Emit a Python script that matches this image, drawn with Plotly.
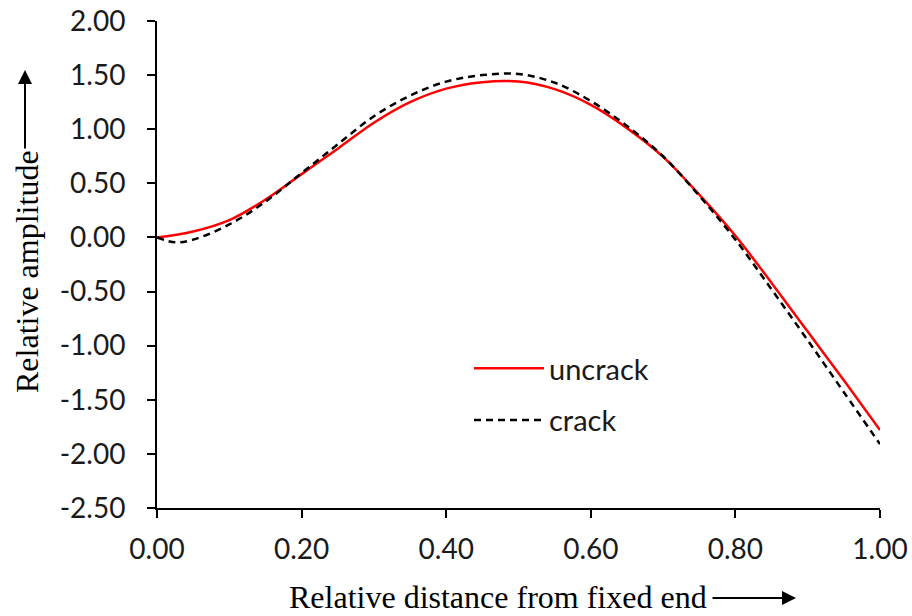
import plotly.graph_objects as go

x_uncrack = [0.00, 0.05, 0.10, 0.15, 0.20, 0.25, 0.30, 0.35, 0.40, 0.45, 0.50,
             0.55, 0.60, 0.65, 0.70, 0.75, 0.80, 0.85, 0.90, 0.95, 1.00]
y_uncrack = [0.00, 0.055, 0.16, 0.35, 0.585, 0.82, 1.06, 1.25, 1.375, 1.435, 1.44,
             1.37, 1.225, 1.01, 0.745, 0.395, 0.015, -0.42, -0.87, -1.32, -1.78]

x_crack = [0.00, 0.025, 0.05, 0.10, 0.15, 0.20, 0.25, 0.30, 0.35, 0.40, 0.45, 0.50,
           0.55, 0.60, 0.65, 0.70, 0.75, 0.80, 0.85, 0.90, 0.95, 1.00]
y_crack = [0.00, -0.045, -0.02, 0.12, 0.33, 0.595, 0.86, 1.12, 1.31, 1.44, 1.50, 1.51,
           1.43, 1.26, 1.03, 0.75, 0.385, -0.02, -0.48, -0.95, -1.43, -1.91]

x_ticks = [0.0, 0.2, 0.4, 0.6, 0.8, 1.0]
x_tick_labels = ["0.00", "0.20", "0.40", "0.60", "0.80", "1.00"]
y_ticks = [2.0, 1.5, 1.0, 0.5, 0.0, -0.5, -1.0, -1.5, -2.0, -2.5]
y_tick_labels = ["2.00", "1.50", "1.00", "0.50", "0.00", "-0.50", "-1.00", "-1.50", "-2.00", "-2.50"]

W, H = 912, 616
L, R, T, B = 157, 32, 21, 108
pw, ph = W - L - R, H - T - B

def px(xp):
    return (xp - L) / pw

def py(yp):
    return (H - B - yp) / ph

fig = go.Figure()
fig.add_trace(go.Scatter(x=x_uncrack, y=y_uncrack, mode="lines", name="uncrack",
                         line=dict(color="#ff0000", width=2.5, shape="spline"),
                         legendgroup="a"))
fig.add_trace(go.Scatter(x=x_crack, y=y_crack, mode="lines", name="crack",
                         line=dict(color="#000000", width=2.5, dash="7px,5px", shape="spline"),
                         legendgroup="b"))

tick_font = dict(family="Lato, Calibri, sans-serif", size=28, color="#1a1a1a")
serif = dict(family="Liberation Serif, Times New Roman, serif", size=32, color="#000000")

fig.update_layout(
    width=W, height=H,
    margin=dict(l=L, r=R, t=T, b=B, autoexpand=False),
    paper_bgcolor="white", plot_bgcolor="white",
    showlegend=True,
    legend=dict(x=px(469), y=py(343), xanchor="left", yanchor="top",
                font=dict(family="Lato, Calibri, sans-serif", size=29, color="#1a1a1a"),
                bgcolor="rgba(0,0,0,0)", tracegroupgap=11, itemwidth=70),
    xaxis=dict(range=[0, 1], tickvals=x_ticks, ticktext=x_tick_labels, automargin=False,
               showgrid=False, zeroline=False, showline=True, linecolor="black", linewidth=2,
               ticks="outside", ticklen=8, tickwidth=2, tickcolor="black",
               tickfont=tick_font, ticklabelstandoff=7),
    yaxis=dict(range=[-2.5, 2.0], tickvals=y_ticks, ticktext=y_tick_labels, automargin=False,
               showgrid=False, zeroline=False, showline=True, linecolor="black", linewidth=2,
               ticks="outside", ticklen=8, tickwidth=2, tickcolor="black",
               tickfont=tick_font, ticklabelstandoff=16),
)

fig.add_annotation(text="Relative distance from fixed end", xref="paper", yref="paper",
                   x=px(498), y=py(597), xanchor="center", yanchor="middle",
                   showarrow=False, font=serif)
fig.add_annotation(text="", xref="paper", yref="paper", x=px(796), y=py(598),
                   ax=-85, ay=0, showarrow=True, arrowhead=2, arrowsize=1.4,
                   arrowwidth=2, arrowcolor="black")
fig.add_annotation(text="Relative amplitude", xref="paper", yref="paper",
                   x=px(27), y=py(272), xanchor="center", yanchor="middle",
                   textangle=-90, showarrow=False, font=serif)
fig.add_annotation(text="", xref="paper", yref="paper", x=px(25), y=py(70),
                   ax=0, ay=80, showarrow=True, arrowhead=2, arrowsize=1.4,
                   arrowwidth=2, arrowcolor="black")

fig.write_html("out.html")
